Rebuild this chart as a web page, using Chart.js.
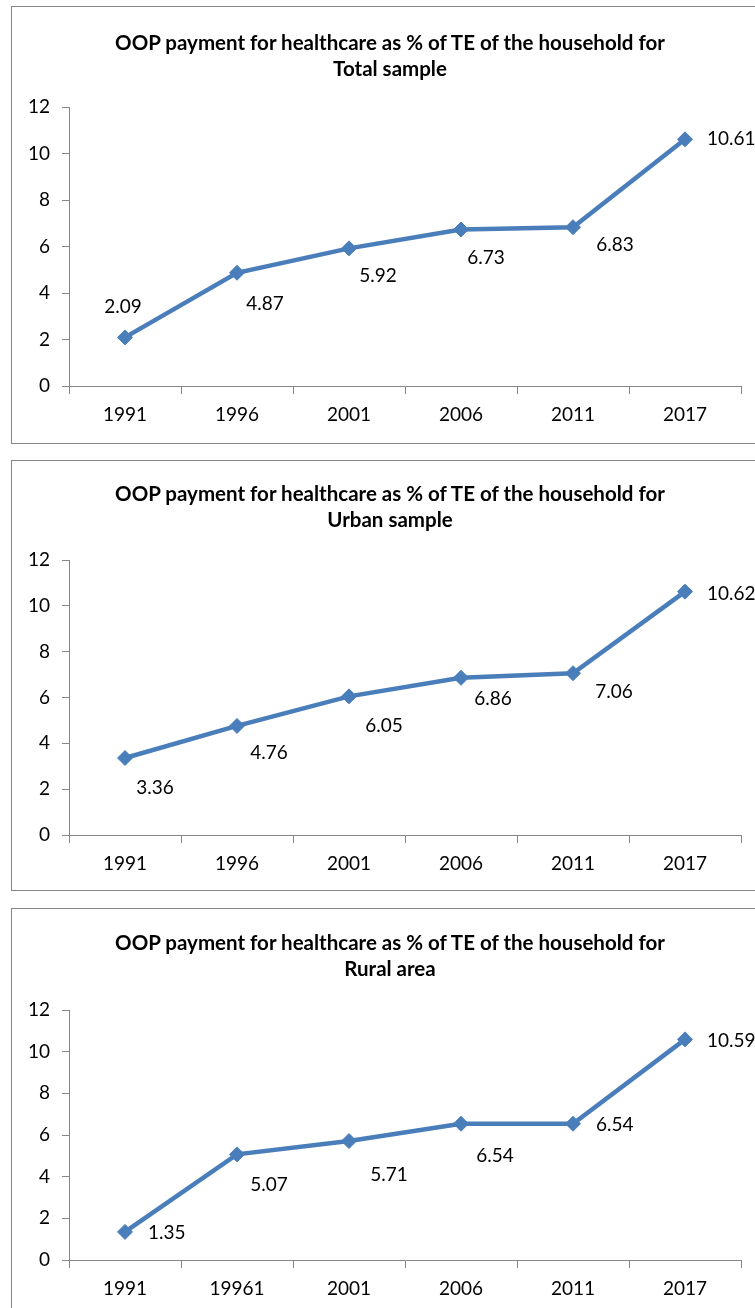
<!DOCTYPE html>
<html>
<head>
<meta charset="utf-8">
<script src="https://cdn.jsdelivr.net/npm/chart.js@4.4.1/dist/chart.umd.min.js"></script>
<style>
  html, body { margin: 0; padding: 0; width: 755px; height: 1308px; overflow: hidden; background: #fff; }
  .box { position: absolute; left: 11px; width: 800px; border: 1px solid #868686; background: #fff; }
  .box canvas { position: absolute; left: 0; top: 0; }
  .titulo { position: absolute; left: 12px; width: 756px; text-align: center; font-family: Lato, "Open Sans", sans-serif; font-weight: bold; font-size: 20.5px; line-height: 26px; color: #000; }
</style>
</head>
<body>

<div class="box" style="top:6px; height:436px;"><canvas id="chart-total" width="743" height="436"></canvas></div>
<div class="titulo" style="top:29px;">OOP payment for healthcare as % of TE of the household for<br>Total sample</div>

<div class="box" style="top:460px; height:429px;"><canvas id="chart-urban" width="743" height="429"></canvas></div>
<div class="titulo" style="top:480px;">OOP payment for healthcare as % of TE of the household for<br>Urban sample</div>

<div class="box" style="top:908px; height:420px;"><canvas id="chart-rural" width="743" height="399"></canvas></div>
<div class="titulo" style="top:929px;">OOP payment for healthcare as % of TE of the household for<br>Rural area</div>

<script>
// dados
const anos = ['1991', '1996', '2001', '2006', '2011', '2017'];
const anosRural = ['1991', '19961', '2001', '2006', '2011', '2017'];
const valoresTotal = [2.09, 4.87, 5.92, 6.73, 6.83, 10.61];
const valoresUrbano = [3.36, 4.76, 6.05, 6.86, 7.06, 10.62];
const valoresRural = [1.35, 5.07, 5.71, 6.54, 6.54, 10.59];
const ticksY = [0, 2, 4, 6, 8, 10, 12];

// posicao dos rotulos (dx, dy, alinhamento) - so estilo
const rotulosTotal = [[-2, -31, 'center'], [28, 31, 'center'], [29, 28, 'center'], [25, 28, 'center'], [42, 18, 'center'], [22, 0, 'left']];
const rotulosUrbano = [[30, 30, 'center'], [32, 27, 'center'], [35, 30, 'center'], [32, 21, 'center'], [41, 19, 'center'], [22, 2, 'left']];
const rotulosRural = [[23, 1, 'left'], [32, 30, 'center'], [40, 34, 'center'], [34, 32, 'center'], [23, 1, 'left'], [22, 1, 'left']];

const AZUL = '#4A7EBB';
const CINZA = '#868686';
const FONTE = 'Lato, "Open Sans", sans-serif';

const pluginRotulos = {
    id: 'rotulos',
    afterDatasetsDraw(chart, args, opts) {
        const ctx = chart.ctx;
        const meta = chart.getDatasetMeta(0);
        const valores = chart.data.datasets[0].data;
        ctx.save();
        ctx.font = '19px ' + FONTE;
        ctx.fillStyle = '#000';
        ctx.textBaseline = 'middle';
        meta.data.forEach((pt, i) => {
            const [dx, dy, al] = opts.pos[i];
            ctx.textAlign = al;
            ctx.fillText(valores[i].toFixed(2), pt.x + dx, pt.y + dy);
        });
        ctx.restore();
    }
};

function criarGrafico(id, labels, valores, pos, topo, base) {
    const canvas = document.getElementById(id);
    const altura = canvas.height;
    new Chart(canvas.getContext('2d'), {
        type: 'line',
        data: {
            labels: labels,
            datasets: [{
                data: valores,
                borderColor: AZUL,
                backgroundColor: AZUL,
                borderWidth: 4.5,
                pointStyle: 'rectRot',
                pointRadius: 7.5,
                pointBorderWidth: 1,
                pointBackgroundColor: AZUL,
                pointBorderColor: AZUL,
                tension: 0
            }]
        },
        options: {
            responsive: false,
            animation: false,
            devicePixelRatio: 1,
            layout: { padding: { top: topo, left: 0, right: 14, bottom: altura - base - 40 } },
            plugins: {
                legend: { display: false },
                title: { display: false },
                tooltip: { enabled: false },
                rotulos: { pos: pos }
            },
            scales: {
                x: {
                    type: 'category',
                    offset: true,
                    afterFit: s => { s.height = 40; },
                    grid: { offset: true, drawOnChartArea: false, drawTicks: true, tickLength: 8, color: CINZA },
                    border: { color: CINZA, width: 1 },
                    ticks: { color: '#000', font: { family: FONTE, size: 19 }, padding: 9, maxRotation: 0 }
                },
                y: {
                    min: 0,
                    max: 12,
                    afterFit: s => { s.width = 57; },
                    afterBuildTicks: s => { s.ticks = ticksY.map(v => ({ value: v })); },
                    grid: { drawOnChartArea: false, drawTicks: true, tickLength: 7, color: CINZA },
                    border: { color: CINZA, width: 1 },
                    ticks: { color: '#000', font: { family: FONTE, size: 19 }, padding: 12 }
                }
            }
        },
        plugins: [pluginRotulos]
    });
}

criarGrafico('chart-total', anos, valoresTotal, rotulosTotal, 100, 379);
criarGrafico('chart-urban', anos, valoresUrbano, rotulosUrbano, 99, 374);
criarGrafico('chart-rural', anosRural, valoresRural, rotulosRural, 101, 351);
</script>
</body>
</html>
